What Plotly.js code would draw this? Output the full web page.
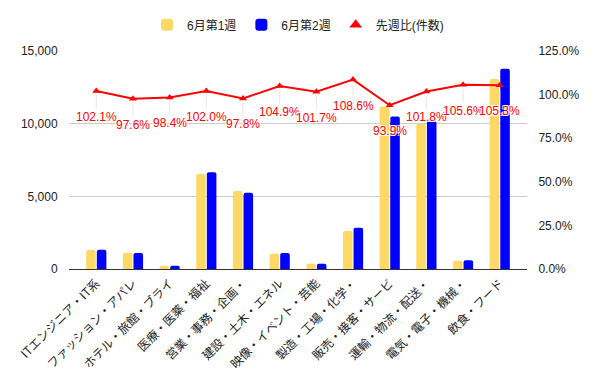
<!DOCTYPE html>
<html><head><meta charset="utf-8">
<script src="https://cdn.plot.ly/plotly-3.0.1.min.js"></script>
<style>html,body{margin:0;padding:0;background:#fff}#c{width:600px;height:371px}</style>
</head><body><div id="c"></div>
<script>
const categories = ["ITエンジニア・IT系","ファッション・アパレ","ホテル・旅館・ブライ","医療・医薬・福祉","営業・事務・企画・","建設・土木・エネル","映像・イベント・芸能","製造・工場・化学・","販売・接客・サービ","運輸・物流・配送・","電気・電子・機械・","飲食・フード"];
const week1 = [1300,1120,230,6530,5360,1050,360,2620,11180,10000,570,13080];
const week2 = [1330,1093,226,6660,5242,1101,366,2845,10498,10180,602,13773];
const ratio = [1.021,0.976,0.984,1.020,0.978,1.049,1.017,1.086,0.939,1.018,1.056,1.053];
const names = ["6月第1週","6月第2週","先週比(件数)"];

const F = "Liberation Sans, Arial, Noto Sans CJK JP, sans-serif";
const traces = [
  {type:'bar', name:names[0], x:categories, y:week1, marker:{color:'#ffd966', cornerradius:2}},
  {type:'bar', name:names[1], x:categories, y:week2, marker:{color:'#0000ff', cornerradius:2}},
  {type:'scatter', mode:'lines+markers', name:names[2], x:categories, y:ratio, yaxis:'y2', showlegend:false,
   line:{color:'#ff0000', width:2}, marker:{symbol:'triangle-up', size:7, color:'#ff0000'}},
  {type:'scatter', mode:'markers', name:names[2], x:[null], y:[null], yaxis:'y2', showlegend:true,
   marker:{symbol:'triangle-up', size:11, color:'#ff0000'}}
];
const annotations = ratio.map((r,i)=>({
  x:categories[i], y:r, xref:'x', yref:'y2', text:(r*100).toFixed(1)+'%',
  showarrow:true, ax:0, ay:26, arrowhead:0, arrowwidth:1, arrowcolor:'#e6e6e6', standoff:4,
  font:{family:F, size:12, color:'#ff0000', shadow:'1px 1px 0 #fff, -1px -1px 0 #fff, 1px -1px 0 #fff, -1px 1px 0 #fff'}
}));
const layout = {
  width:600, height:371,
  margin:{l:69, r:73, t:51, b:102, autoexpand:false},
  paper_bgcolor:'#fff', plot_bgcolor:'#fff',
  font:{family:F, size:12, color:'#222'},
  barmode:'group', bargap:0.42, bargroupgap:0.1,
  showlegend:true,
  legend:{orientation:'h', x:0.5, xanchor:'center', y:1.12, yanchor:'middle', itemwidth:30,
          font:{family:F,size:12,color:'#222'}, traceorder:'normal'},
  xaxis:{type:'category', tickangle:-45, showgrid:false, ticks:'', showline:false, automargin:false, ticklabelstandoff:4,
         tickfont:{family:"Noto Sans CJK JP, sans-serif", size:12, color:'#222'}},
  yaxis:{range:[0,15000], dtick:5000, tickformat:',d', gridcolor:'#cccccc', zeroline:true, zerolinecolor:'#333', zerolinewidth:1,
         automargin:false, ticks:'outside', ticklen:8, tickcolor:'rgba(0,0,0,0)', tickfont:{size:12,color:'#222'}},
  yaxis2:{range:[0,1.25], dtick:0.25, tickformat:'.1%', overlaying:'y', side:'right', showgrid:false, zeroline:false,
          automargin:false, ticks:'outside', ticklen:8, tickcolor:'rgba(0,0,0,0)', tickfont:{size:12,color:'#222'}},
  annotations:annotations
};
Plotly.newPlot('c', traces, layout, {displayModeBar:false, staticPlot:true});
</script></body></html>
